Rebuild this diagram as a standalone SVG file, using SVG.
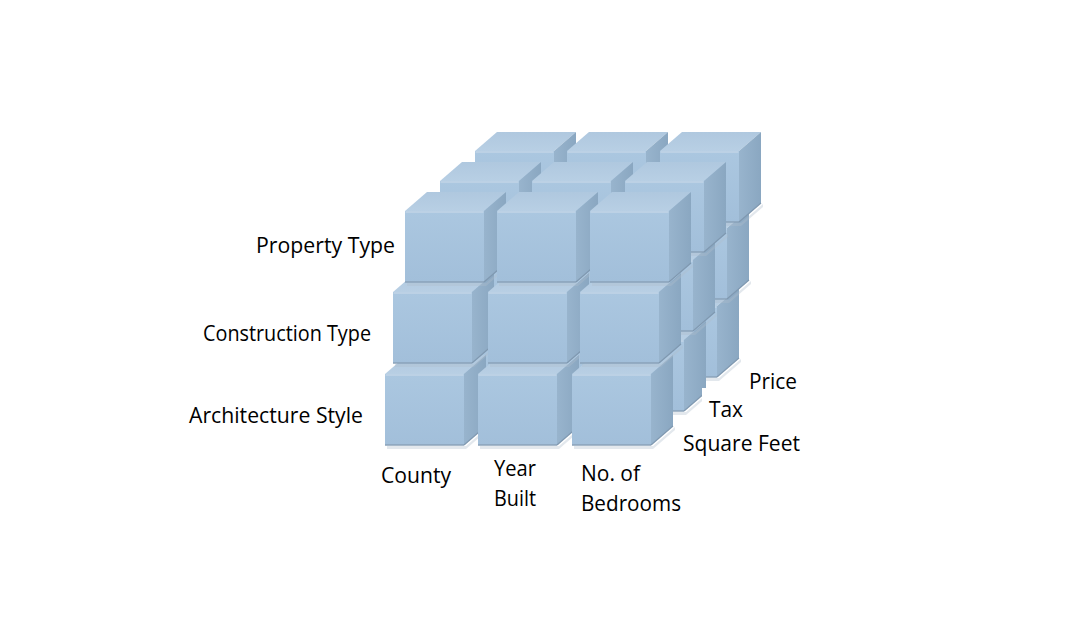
<svg xmlns="http://www.w3.org/2000/svg" xmlns:xlink="http://www.w3.org/1999/xlink" width="1091" height="637" viewBox="0 0 1091 637">
  <style>
    .lbl { font-family: "Open Sans", "Liberation Sans", sans-serif; font-size: 21px; fill: #000000; }
  </style>
  <defs>
    <linearGradient id="gFront" x1="0" y1="0" x2="0" y2="1">
      <stop offset="0" stop-color="#abc7e0"/>
      <stop offset="1" stop-color="#a2bfda"/>
    </linearGradient>
    <linearGradient id="gTop" x1="0" y1="1" x2="0" y2="0">
      <stop offset="0" stop-color="#b8cfe4"/>
      <stop offset="1" stop-color="#afc8df"/>
    </linearGradient>
    <linearGradient id="gSide" x1="0" y1="0" x2="1" y2="0">
      <stop offset="0" stop-color="#98b4cd"/>
      <stop offset="1" stop-color="#8aa7c1"/>
    </linearGradient>
    <g id="cube">
      <polygon points="2,72 81,72 103,53 103,56 81,75 2,75" fill="#aebccb" opacity="0.35"/>
      <polygon points="0,0 79,0 101,-19 22,-19" fill="url(#gTop)"/>
      <polygon points="79,0 101,-19 101,52 79,71" fill="url(#gSide)"/>
      <rect x="0" y="0" width="79" height="71" fill="url(#gFront)"/>
      <line x1="0.5" y1="1" x2="78.5" y2="1" stroke="#bcd1e5" stroke-width="2"/>
      <line x1="0" y1="71" x2="79" y2="71" stroke="#8aa2b8" stroke-width="1.5"/>
      <line x1="79" y1="71" x2="101" y2="52" stroke="#7f98b0" stroke-width="1.2"/>
    </g>
  </defs>

  <g id="cubes-layer2">
    <g id="cube-l2-r2-c0"><use xlink:href="#cube" x="451" y="306"/></g>
    <g id="cube-l2-r2-c1"><use xlink:href="#cube" x="544" y="306"/></g>
    <g id="cube-l2-r2-c2"><use xlink:href="#cube" x="638" y="306"/></g>
    <g id="cube-l2-r1-c0"><use xlink:href="#cube" x="461" y="228"/></g>
    <g id="cube-l2-r1-c1"><use xlink:href="#cube" x="556" y="228"/></g>
    <g id="cube-l2-r1-c2"><use xlink:href="#cube" x="648" y="228"/></g>
    <g id="cube-l2-r0-c0"><use xlink:href="#cube" x="475" y="151"/></g>
    <g id="cube-l2-r0-c1"><use xlink:href="#cube" x="567" y="151"/></g>
    <g id="cube-l2-r0-c2"><use xlink:href="#cube" x="660" y="151"/></g>
  </g>
  <g id="cubes-layer1">
    <g id="cube-l1-r2-c0"><use xlink:href="#cube" x="418" y="340"/></g>
    <g id="cube-l1-r2-c1"><use xlink:href="#cube" x="511" y="340"/></g>
    <g id="cube-l1-r2-c2"><use xlink:href="#cube" x="605" y="340"/></g>
    <g id="cube-l1-r1-c0"><use xlink:href="#cube" x="427" y="260"/></g>
    <g id="cube-l1-r1-c1"><use xlink:href="#cube" x="522" y="260"/></g>
    <g id="cube-l1-r1-c2"><use xlink:href="#cube" x="614" y="260"/></g>
    <g id="cube-l1-r0-c0"><use xlink:href="#cube" x="440" y="181"/></g>
    <g id="cube-l1-r0-c1"><use xlink:href="#cube" x="532" y="181"/></g>
    <g id="cube-l1-r0-c2"><use xlink:href="#cube" x="625" y="181"/></g>
  </g>
  <g id="cubes-layer0">
    <g id="cube-l0-r2-c0"><use xlink:href="#cube" x="385" y="374"/></g>
    <g id="cube-l0-r2-c1"><use xlink:href="#cube" x="478" y="374"/></g>
    <g id="cube-l0-r2-c2"><use xlink:href="#cube" x="572" y="374"/></g>
    <g id="cube-l0-r1-c0"><use xlink:href="#cube" x="393" y="292"/></g>
    <g id="cube-l0-r1-c1"><use xlink:href="#cube" x="488" y="292"/></g>
    <g id="cube-l0-r1-c2"><use xlink:href="#cube" x="580" y="292"/></g>
    <g id="cube-l0-r0-c0"><use xlink:href="#cube" x="405" y="211"/></g>
    <g id="cube-l0-r0-c1"><use xlink:href="#cube" x="497" y="211"/></g>
    <g id="cube-l0-r0-c2"><use xlink:href="#cube" x="590" y="211"/></g>
  </g>

  <g id="connectors"></g>

  <g id="labels">
    <rect x="702" y="388" width="48" height="36" fill="#ffffff"/>
    <text class="lbl" x="256" y="253" textLength="139" lengthAdjust="spacingAndGlyphs">Property Type</text>
    <text class="lbl" x="203" y="341" textLength="168" lengthAdjust="spacingAndGlyphs">Construction Type</text>
    <text class="lbl" x="189" y="423" textLength="174" lengthAdjust="spacingAndGlyphs">Architecture Style</text>
    <text class="lbl" x="381" y="483" textLength="70" lengthAdjust="spacingAndGlyphs">County</text>
    <text class="lbl" x="494" y="476" textLength="42" lengthAdjust="spacingAndGlyphs">Year</text>
    <text class="lbl" x="494" y="506" textLength="42" lengthAdjust="spacingAndGlyphs">Built</text>
    <text class="lbl" x="581" y="481" textLength="59" lengthAdjust="spacingAndGlyphs">No. of</text>
    <text class="lbl" x="581" y="511" textLength="100" lengthAdjust="spacingAndGlyphs">Bedrooms</text>
    <text class="lbl" x="683" y="451" textLength="117" lengthAdjust="spacingAndGlyphs">Square Feet</text>
    <text class="lbl" x="709" y="417" textLength="34" lengthAdjust="spacingAndGlyphs">Tax</text>
    <text class="lbl" x="749" y="389" textLength="48" lengthAdjust="spacingAndGlyphs">Price</text>
  </g>
</svg>
